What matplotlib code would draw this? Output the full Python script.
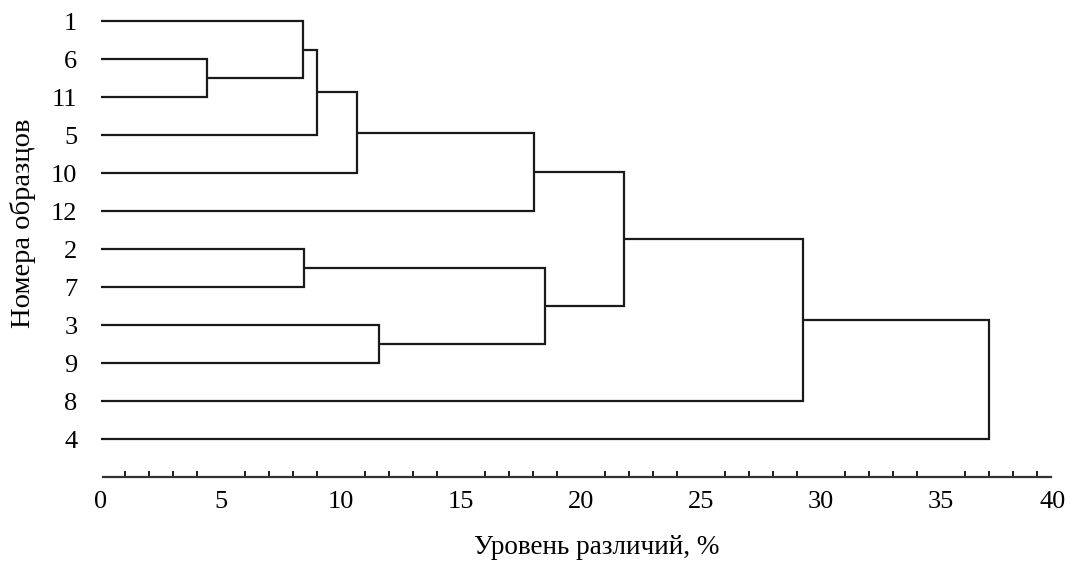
import matplotlib
matplotlib.use('Agg')
import matplotlib.pyplot as plt
from matplotlib.ticker import FixedLocator
from matplotlib.transforms import ScaledTranslation

plt.rcParams['font.family'] = ['Liberation Serif', 'DejaVu Serif']

# Leaf order (top to bottom) and merge table of the clustering
leaf_labels   = ['1', '6', '11', '5', '10', '12', '2', '7', '3', '9', '8', '4']
merge_left    = [1, 0, 13, 14, 15, 6, 8, 17, 16, 20, 21]
merge_right   = [2, 12, 3, 4, 5, 7, 9, 18, 19, 10, 11]
merge_height  = [4.43, 8.40, 9.01, 10.68, 18.04, 8.47, 11.58, 18.50, 21.79, 29.26, 37.01]

x_ticks = [0, 5, 10, 15, 20, 25, 30, 35, 40]

LINE = '#1a1a1a'
FS = 19

fig = plt.figure(figsize=(10.71, 5.62), dpi=100)
ax = fig.add_axes([101 / 1071, 1 - 477 / 562, 960 / 1071, 475 / 562])

# node positions: leaves first, then merged clusters
n = len(leaf_labels)
node_y = list(range(n))
node_x = [0.0] * n
for a, b, h in zip(merge_left, merge_right, merge_height):
    ax.plot([node_x[a], h, h, node_x[b]], [node_y[a], node_y[a], node_y[b], node_y[b]],
            color=LINE, lw=1.6, solid_joinstyle='miter', solid_capstyle='butt')
    node_x.append(h)
    node_y.append((node_y[a] + node_y[b]) / 2)

ax.set_xlim(0, 40)
ax.set_ylim(12, -0.5)

ax.set_yticks(range(n))
ax.set_yticklabels(leaf_labels, fontsize=FS)
ax.tick_params(axis='y', length=0, pad=17)

ax.set_xticks(x_ticks)
ax.set_xticklabels([str(t) for t in x_ticks], fontsize=FS)
ax.xaxis.set_minor_locator(FixedLocator(range(1, 40)))
ax.tick_params(axis='x', which='major', length=0, pad=10)
ax.tick_params(axis='x', which='minor', direction='in', length=4, width=1.4, color=LINE)

# keep the last label inside the figure edge
last = ax.get_xticklabels()[-1]
last.set_transform(last.get_transform() + ScaledTranslation(-6 / 72, 0, fig.dpi_scale_trans))

for side in ['top', 'right', 'left']:
    ax.spines[side].set_visible(False)
ax.spines['bottom'].set_bounds(0.1, 39.6)
ax.spines['bottom'].set_linewidth(1.6)
ax.spines['bottom'].set_color('#333333')

ax.set_xlabel('Уровень различий, %', fontsize=19.5)
ax.xaxis.label.set_va('center')
ax.xaxis.set_label_coords(0.516, -0.149)
ax.set_ylabel('Номера образцов', fontsize=20.5)
ax.yaxis.label.set_va('center')
ax.yaxis.set_label_coords(-0.081, 0.535)

fig.savefig('out.png', dpi=100)
